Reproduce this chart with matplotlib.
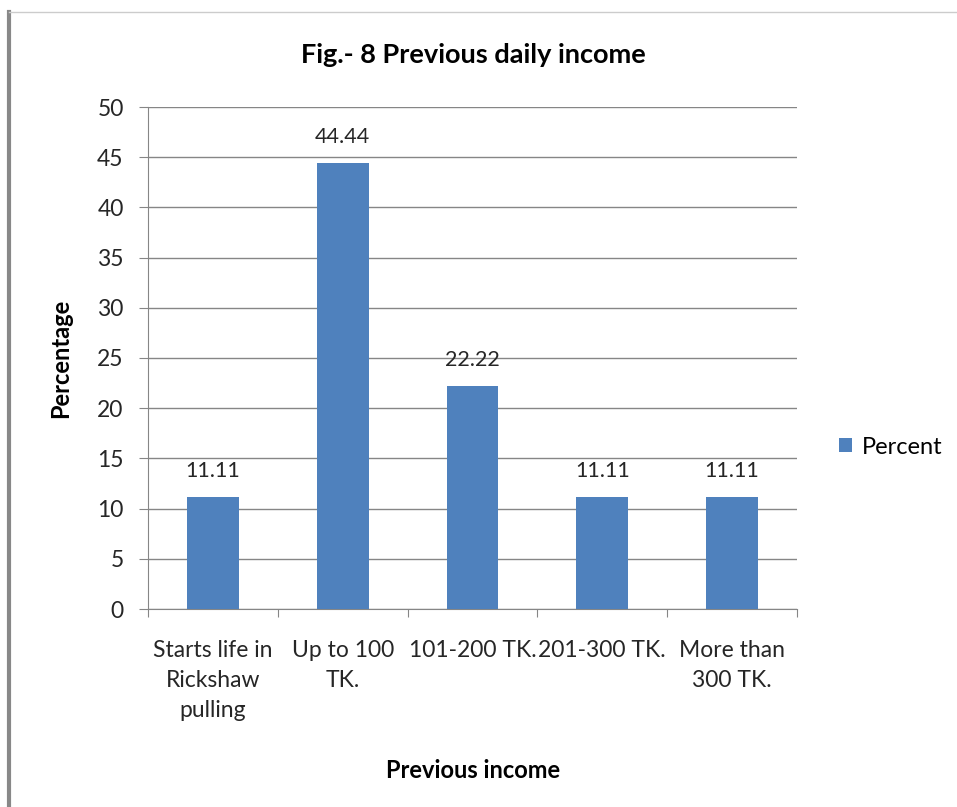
import matplotlib.pyplot as plt
from matplotlib.lines import Line2D

categories = ["Starts life in\nRickshaw\npulling", "Up to 100\nTK.", "101-200 TK.",
              "201-300 TK.", "More than\n300 TK."]
percent = [11.11, 44.44, 22.22, 11.11, 11.11]
yticks = [0, 5, 10, 15, 20, 25, 30, 35, 40, 45, 50]

bar_color = "#4F81BD"
grid_color = "#868686"
text_color = "#262626"
plt.rcParams['font.family'] = ['Lato', 'DejaVu Sans']

fig = plt.figure(figsize=(9.57, 8.07), dpi=100)
ax = fig.add_axes([148 / 957, 1 - 609 / 807, 649 / 957, 502 / 807])

x = range(len(categories))
bars = ax.bar(x, percent, width=0.4, color=bar_color, zorder=3, label="Percent")
for xi, v in zip(x, percent):
    ax.annotate(f"{v:.2f}", (xi, v), xytext=(0, 11.5), textcoords="offset points",
                ha="center", va="bottom", fontsize=15.5, color=text_color)

ax.set_xlim(-0.5, len(categories) - 0.5)
ax.set_ylim(0, 50)
ax.set_yticks(yticks)
ax.yaxis.grid(True, color=grid_color, linewidth=1, zorder=0)
ax.set_xticks([i - 0.5 for i in range(len(categories) + 1)], minor=False)
ax.set_xticklabels([])
ax.set_xticks(list(x), minor=True)
ax.set_xticklabels(categories, minor=True, fontsize=16.5, color=text_color, linespacing=1.55)
ax.tick_params(axis="x", which="minor", length=0, pad=22)
ax.tick_params(axis="x", which="major", length=6, color=grid_color, direction="out")
ax.tick_params(axis="y", length=6.5, color=grid_color, labelsize=16.5,
               labelcolor=text_color, pad=11)
for s in ["top", "right"]:
    ax.spines[s].set_visible(False)
for s in ["left", "bottom"]:
    ax.spines[s].set_color(grid_color)

ax.set_ylabel("Percentage", fontsize=17, fontweight="bold")
ax.yaxis.set_label_coords((72 - 148) / 649, (609 - 358) / 502)
fig.text(473 / 957, 1 - 770 / 807, "Previous income", fontsize=17, fontweight="bold",
         ha="center", va="center")
fig.text(473 / 957, 1 - 55 / 807, "Fig.- 8 Previous daily income", fontsize=19.5,
         fontweight="bold", ha="center", va="center")

fig.legend(handles=[bars], labels=["Percent"], loc="center left",
           bbox_to_anchor=(818 / 957, 1 - 447 / 807), frameon=False, fontsize=17,
           handlelength=0.55, handleheight=0.55, handletextpad=0.4)

# outer frame of the chart area
fig.add_artist(Line2D([9 / 957, 9 / 957], [0, 1 - 12 / 807], color="#888888",
                      linewidth=3, transform=fig.transFigure))
fig.add_artist(Line2D([9 / 957, 1], [1 - 12 / 807, 1 - 12 / 807], color="#cccccc",
                      linewidth=1, transform=fig.transFigure))

fig.savefig("out.png", dpi=100)
